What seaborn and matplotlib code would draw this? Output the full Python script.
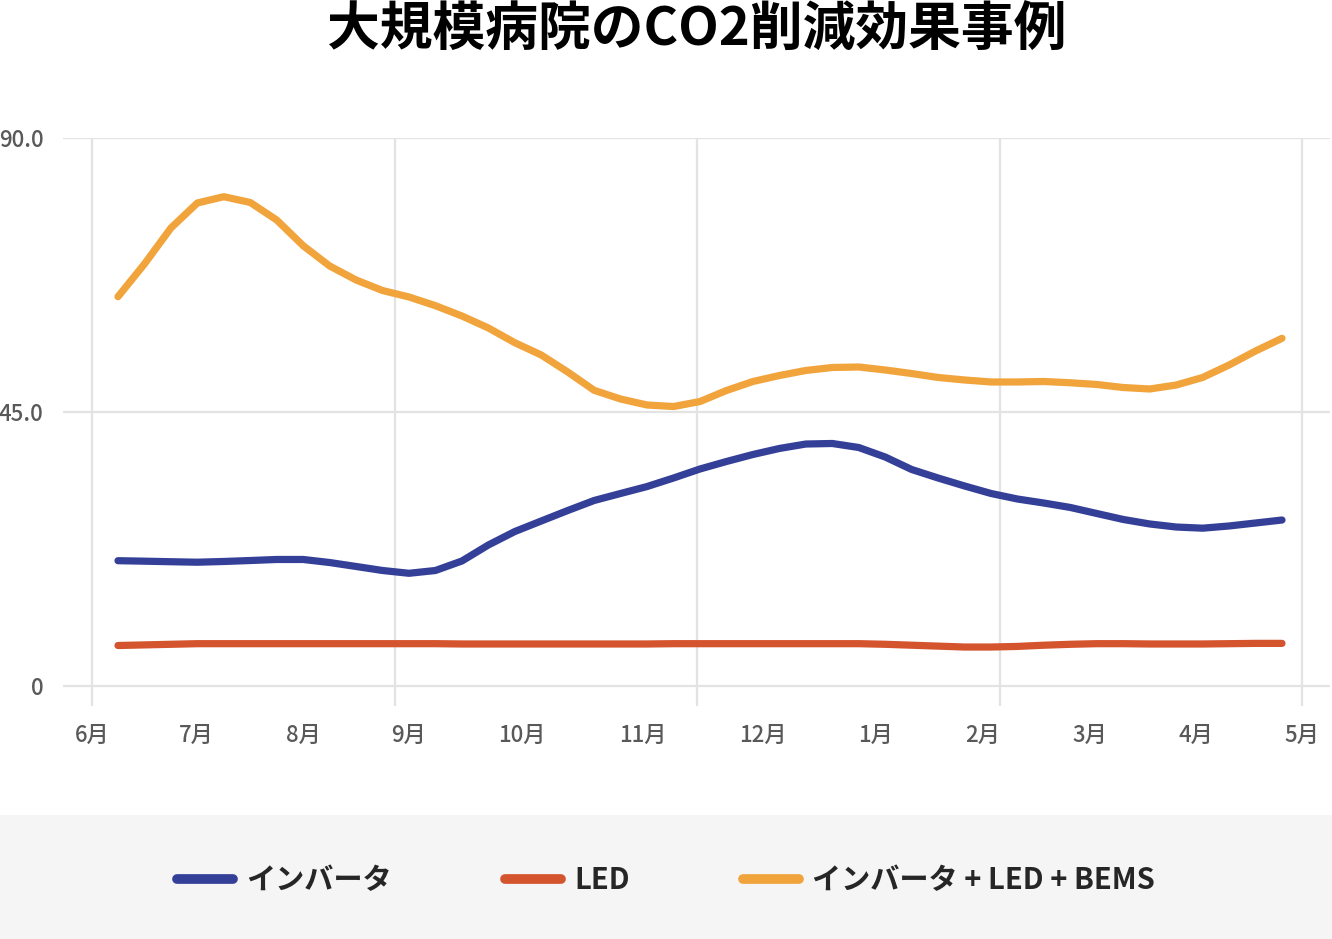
import numpy as np
import pandas as pd
import matplotlib
matplotlib.use("Agg")
import matplotlib.pyplot as plt
from matplotlib.lines import Line2D
from matplotlib.patches import Rectangle
import seaborn as sns

# ---------------- data (quarter-month samples) ----------------
title = "大規模病院のCO2削減効果事例"
series_names = ["インバータ", "LED", "インバータ + LED + BEMS"]
month_labels = ["6月", "7月", "8月", "9月", "10月", "11月", "12月", "1月", "2月", "3月", "4月", "5月"]
inverter = [20.58, 20.50, 20.41, 20.33, 20.45, 20.61, 20.78, 20.78, 20.28, 19.63,
            18.97, 18.51, 18.97, 20.53, 23.16, 25.37, 27.10, 28.82, 30.47, 31.62,
            32.76, 34.16, 35.64, 36.87, 38.02, 39.01, 39.74, 39.83, 39.17, 37.61,
            35.56, 34.16, 32.85, 31.62, 30.71, 30.05, 29.32, 28.33, 27.35, 26.61,
            26.11, 25.92, 26.28, 26.77, 27.26]
led = [6.65, 6.75, 6.85, 6.95, 6.95, 6.95, 6.95, 6.95, 6.95, 6.95,
       6.95, 6.95, 6.95, 6.90, 6.90, 6.90, 6.90, 6.90, 6.90, 6.90,
       6.90, 6.95, 6.95, 6.95, 6.95, 6.95, 6.95, 6.95, 6.95, 6.85,
       6.70, 6.55, 6.40, 6.40, 6.50, 6.70, 6.85, 6.95, 6.95, 6.90,
       6.90, 6.90, 6.95, 7.00, 7.00]
combined = [63.94, 69.31, 75.22, 79.33, 80.36, 79.41, 76.53, 72.31, 68.98, 66.68,
            64.95, 63.89, 62.46, 60.77, 58.80, 56.38, 54.36, 51.57, 48.56, 47.13,
            46.15, 45.90, 46.72, 48.53, 50.01, 50.99, 51.82, 52.31, 52.39, 51.90,
            51.32, 50.67, 50.26, 49.93, 49.93, 50.01, 49.80, 49.52, 49.02, 48.78,
            49.43, 50.67, 52.72, 55.02, 57.10]
y_ticks = [0, 45, 90]
y_tick_labels = ["0", "45.0", "90.0"]

# ---------------- layout / style ----------------
colors = ["#343f98", "#d4542e", "#f1a43b"]
grid_color = "#e3e3e3"
tick_color = "#595959"

n = len(inverter)
x = np.arange(n)
df = pd.DataFrame({
    "x": np.concatenate([x, x, x]),
    "value": inverter + led + combined,
    "series": [series_names[0]] * n + [series_names[1]] * n + [series_names[2]] * n,
})

sns.set_theme(style="white")
plt.rcParams["font.family"] = ["Noto Sans CJK JP", "DejaVu Sans"]

W, H = 1332, 939
fig = plt.figure(figsize=(W / 100, H / 100), dpi=100)
fig.patch.set_facecolor("white")

# grey legend band
fig.patches.append(Rectangle((0, 0), 1, 1 - 815 / H, transform=fig.transFigure,
                             facecolor="#f5f5f5", edgecolor="none", zorder=0))

ax_left, ax_right, ax_top, ax_bottom = 63, 1330, 138, 706
ax = fig.add_axes([ax_left / W, 1 - ax_bottom / H, (ax_right - ax_left) / W, (ax_bottom - ax_top) / H])
ax.set_facecolor("white")

sns.lineplot(data=df, x="x", y="value", hue="series", hue_order=series_names,
             palette=colors, linewidth=5.2, ax=ax, legend=False,
             solid_capstyle="round", solid_joinstyle="round", zorder=3)

# pixel -> data mapping for x (first sample at px 118, last at px 1282)
px0, step = 118, (1282 - 118) / (n - 1)
to_x = lambda p: (p - px0) / step
ax.set_xlim(to_x(ax_left), to_x(ax_right))
unit = (686 - 138) / 90.0
ax.set_ylim(-(ax_bottom - 686) / unit, 90)

grid_px = [92, 395, 697, 1000, 1302]
label_px = [92, 196, 303, 409, 522, 643, 763, 876, 983, 1090, 1196, 1302]
ax.xaxis.remove_overlapping_locs = False
ax.set_xticks([to_x(p) for p in grid_px])
ax.set_xticklabels([""] * len(grid_px))
ax.set_xticks([to_x(p) for p in label_px], minor=True)
ax.set_xticklabels(month_labels, minor=True)
ax.set_yticks(y_ticks)
ax.set_yticklabels(y_tick_labels)

ax.grid(True, which="major", axis="both", color=grid_color, linewidth=1.6, zorder=0)
ax.tick_params(axis="x", which="both", length=0, pad=13, labelsize=16, labelcolor=tick_color)
ax.tick_params(axis="y", length=0, pad=14, labelsize=16, labelcolor=tick_color)
for lab in ax.get_xticklabels(minor=True) + ax.get_yticklabels():
    lab.set_fontweight("medium")
for s in ax.spines.values():
    s.set_visible(False)
ax.set_xlabel("")
ax.set_ylabel("")
for line in ax.get_lines():
    line.set_clip_on(False)

fig.text(697 / W, 1 - 30 / H, title, ha="center", va="center",
         fontsize=38, fontweight="bold", color="black")

handles = [Line2D([0], [0], color=c, linewidth=7, solid_capstyle="round") for c in colors]
fig.legend(handles, series_names, loc="center", bbox_to_anchor=(0.5, 1 - 880 / H),
           ncol=3, frameon=False, handlelength=1.9, handletextpad=0.45,
           columnspacing=3.9, prop={"size": 21, "weight": "bold"})

fig.savefig("out.png", dpi=100)
